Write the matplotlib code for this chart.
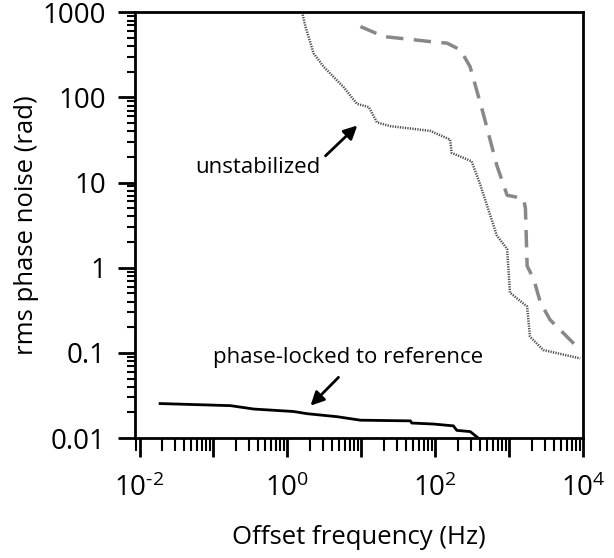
import matplotlib.pyplot as plt
from matplotlib.ticker import LogLocator, NullFormatter

# phase-locked to reference (solid black)
f_locked = [0.019, 0.17, 0.35, 1.2, 1.86, 4.7, 9.7, 46, 48, 94, 175, 195, 296, 380]
n_locked = [0.0254, 0.024, 0.0219, 0.0205, 0.0193, 0.0178, 0.0162, 0.0159, 0.015,
            0.0146, 0.0139, 0.0123, 0.0119, 0.010]

# unstabilized (dotted gray)
f_unstab = [1.58, 1.75, 2.26, 3.09, 5.75, 8.7, 12.6, 16.2, 24.5, 85, 158, 166, 309,
            407, 676, 933, 1020, 1740, 1900, 2880, 9100]
n_unstab = [1000, 680, 329, 229, 132, 84, 77, 51, 46, 40.5, 32, 22.3, 17.8,
            9.3, 2.4, 1.66, 0.51, 0.35, 0.155, 0.108, 0.086]

# second unstabilized trace (dashed gray)
f_dash = [9.7, 20, 85, 145, 219, 295, 447, 676, 933, 1550, 1650, 1740, 2140, 2630,
          3550, 9100]
n_dash = [680, 519, 453, 433, 360, 229, 63, 16, 7.1, 6.5, 5.0, 1.05, 0.73, 0.39,
          0.245, 0.108]

plt.rcParams['font.family'] = ['Open Sans', 'DejaVu Sans']
plt.rcParams['mathtext.fontset'] = 'custom'
plt.rcParams['mathtext.rm'] = 'Open Sans'
plt.rcParams['mathtext.it'] = 'Open Sans'
fig = plt.figure(figsize=(6.14, 5.58), dpi=100)
ax = fig.add_axes([0.220, 0.215, 0.730, 0.763])

ax.plot(f_locked, n_locked, color='black', lw=2)
ax.plot(f_unstab, n_unstab, color='#4d4d4d', lw=1.8, ls=(0, (0.5, 0.5)))
ax.plot(f_dash, n_dash, color='#888888', lw=2.5, ls=(0, (5, 3)))

ax.set_xscale('log')
ax.set_yscale('log')
ax.set_xlim(10 ** -2.06, 1e4)
ax.set_ylim(0.01, 1000)

ax.set_xticks([1e-2, 1e-1, 1e0, 1e1, 1e2, 1e3, 1e4])
ax.set_xticklabels(['$10^{\\text{-2}}$', '', '$10^{0}$', '', '$10^{2}$', '', '$10^{4}$'])
ax.set_yticks([0.01, 0.1, 1, 10, 100, 1000])
ax.set_yticklabels(['0.01', '0.1', '1', '10', '100', '1000'])
ax.xaxis.set_minor_locator(LogLocator(base=10, subs=range(2, 10), numticks=100))
ax.yaxis.set_minor_locator(LogLocator(base=10, subs=range(2, 10), numticks=100))
ax.xaxis.set_minor_formatter(NullFormatter())
ax.yaxis.set_minor_formatter(NullFormatter())

for s in ax.spines.values():
    s.set_linewidth(2)
ax.tick_params(which='major', length=12, width=2, labelsize=20, pad=9)
ax.tick_params(which='minor', length=6, width=1.5)
ax.tick_params(axis='x', which='major', length=14, pad=12)
ax.tick_params(axis='x', which='minor', length=9)

ax.set_xlabel('Offset frequency (Hz)', fontsize=18.5, labelpad=16)
ax.set_ylabel('rms phase noise (rad)', fontsize=18.5)
ax.yaxis.set_label_coords(-0.215, 0.5)

# annotations: text and arrows placed separately
arrow = dict(arrowstyle='-|>', color='black', lw=2, mutation_scale=20,
             shrinkA=0, shrinkB=0)
ax.text(2.8, 15.0, 'unstabilized', fontsize=16, ha='right', va='center')
ax.annotate('', xy=(8.8, 46.8), xytext=(3.27, 20.6), arrowprops=arrow)
ax.text(6.5, 0.089, 'phase-locked to reference', fontsize=16, ha='center', va='center')
ax.annotate('', xy=(2.05, 0.024), xytext=(4.9, 0.0516), arrowprops=arrow)

fig.savefig('out.png', dpi=100)
